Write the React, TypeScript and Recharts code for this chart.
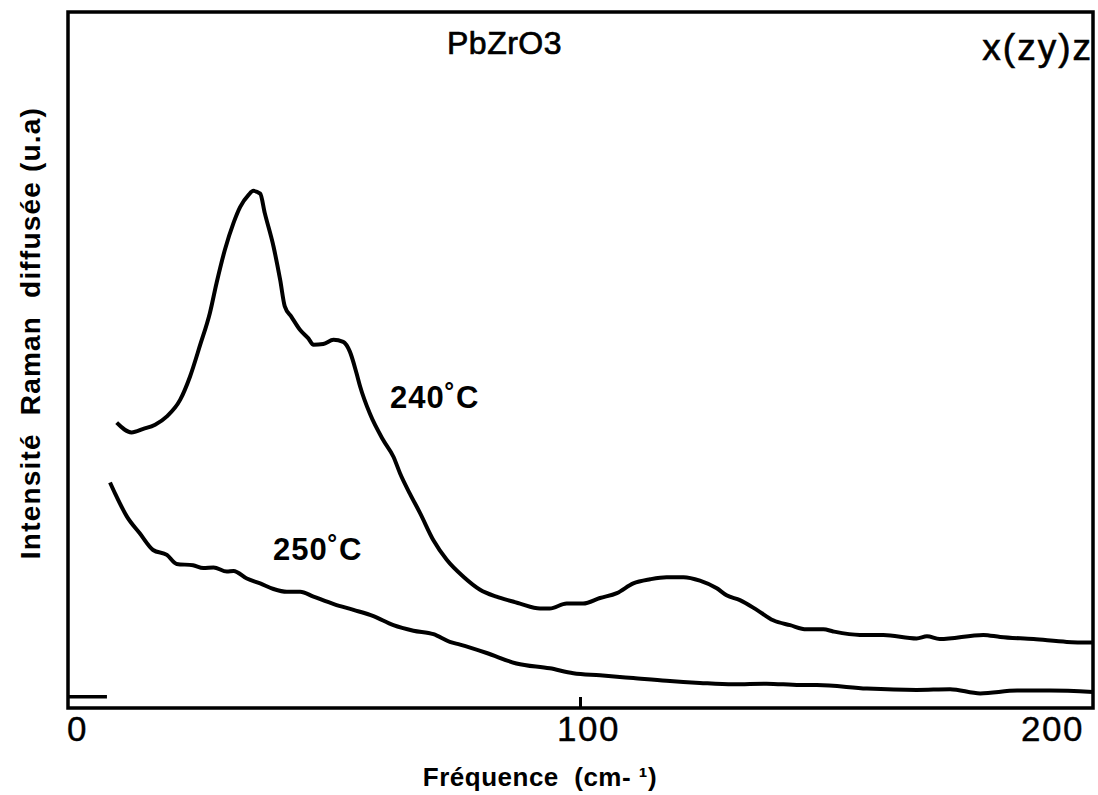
import React from 'react';
import { ComposedChart, Line, XAxis, YAxis, ReferenceArea, Customized } from 'recharts';

// Raman spectrum of PbZrO3, x(zy)z geometry
const freq240 = [9.5, 12.4, 14.7, 17.0, 19.3, 21.9, 23.8, 25.8, 27.7, 29.0, 30.6, 32.3, 33.6, 35.2, 36.2, 37.5, 38.4, 40.1, 41.4, 42.3, 43.6, 45.3, 46.9, 47.9, 49.8, 51.8, 53.7, 55.0, 56.3, 57.0, 58.9, 61.5, 63.5, 64.8, 66.7, 68.7, 71.3, 73.9, 77.1, 80.4, 83.6, 86.8, 88.2, 92.1, 94.0, 97.3, 100.5, 103.8, 107.1, 110.3, 113.6, 116.8, 120.1, 123.3, 126.6, 128.5, 131.1, 134.4, 137.6, 140.9, 144.1, 147.4, 149.3, 154.5, 159.1, 165.6, 167.6, 170.1, 178.6, 181.9, 188.4, 194.9, 200];
const int240 = [41.0, 39.6, 40.1, 40.7, 41.9, 44.3, 47.6, 52.2, 56.8, 61.1, 65.8, 69.7, 72.0, 73.7, 74.3, 73.9, 71.1, 66.3, 61.5, 57.7, 56.2, 54.3, 53.1, 52.2, 52.3, 52.9, 52.6, 51.2, 48.1, 46.2, 42.3, 38.5, 36.1, 33.7, 30.8, 28.0, 24.1, 21.3, 18.9, 17.0, 16.0, 15.3, 15.0, 14.3, 14.3, 15.0, 15.0, 15.8, 16.5, 17.9, 18.5, 18.8, 18.8, 18.3, 17.2, 16.2, 15.5, 14.1, 12.6, 11.9, 11.3, 11.3, 11.0, 10.5, 10.5, 10.0, 10.3, 9.9, 10.5, 10.2, 9.9, 9.5, 9.4];

const freq250 = [8.2, 9.2, 11.5, 14.0, 16.6, 19.3, 21.2, 24.4, 26.4, 28.4, 31.0, 32.3, 34.9, 37.5, 40.1, 42.7, 45.3, 47.9, 52.0, 55.7, 59.6, 63.5, 67.4, 71.3, 74.5, 76.5, 81.7, 87.5, 94.0, 98.6, 103.8, 110.3, 116.8, 123.3, 129.8, 136.3, 142.8, 146.1, 155.9, 165.6, 172.1, 178.0, 185.2, 191.6, 200];
const int250 = [32.4, 30.8, 27.5, 25.1, 22.7, 22.0, 20.7, 20.5, 20.1, 20.2, 19.6, 19.7, 18.6, 17.9, 17.1, 16.7, 16.7, 16.0, 14.9, 14.1, 13.2, 11.9, 11.1, 10.6, 9.5, 9.1, 7.9, 6.4, 5.7, 5.0, 4.7, 4.3, 3.9, 3.6, 3.4, 3.5, 3.3, 3.3, 2.8, 2.6, 2.7, 2.1, 2.5, 2.5, 2.3];

const baselineFreq = [0, 7.6];
const baselineInt = [1.6, 1.6];

const xTicks = [0, 100, 200];

const series240 = freq240.map((f, i) => ({ f, v: int240[i] }));
const series250 = freq250.map((f, i) => ({ f, v: int250[i] }));
const seriesBase = baselineFreq.map((f, i) => ({ f, v: baselineInt[i] }));

const FONT = '"Liberation Sans", Arial, Helvetica, sans-serif';

const XTick = (props: any) => {
  const { x, y, payload } = props;
  const v = payload.value;
  const anchor = v === 0 ? 'start' : v === 200 ? 'end' : 'middle';
  const tx = v === 0 ? x - 1 : v === 200 ? x - 2 : x + 8;
  return (
    <g>
      {v === 100 && <line x1={x} x2={x} y1={y - 11} y2={y} stroke="#000" strokeWidth={3} />}
      <text x={tx} y={y + 33} textAnchor={anchor} fontSize={35} letterSpacing={1.5} fontFamily={FONT} fill="#000" stroke="#000" strokeWidth={0.4}>
        {v}
      </text>
    </g>
  );
};

const Labels = () => (
  <g fontFamily={FONT} fill="#000">
    <text x={447} y={54} fontSize={32} letterSpacing={0.5} stroke="#000" strokeWidth={0.7}>PbZrO3</text>
    <text x={1093} y={60} fontSize={37} letterSpacing={2} textAnchor="end" stroke="#000" strokeWidth={0.6}>x(zy)z</text>
    <text x={390} y={408} fontSize={31} fontWeight="bold" letterSpacing={1}>240˚C</text>
    <text x={273} y={560} fontSize={31} fontWeight="bold" letterSpacing={1}>250˚C</text>
    <text x={540} y={786} fontSize={26} fontWeight="bold" letterSpacing={0.5} textAnchor="middle" style={{ whiteSpace: 'pre' }}>
      {'Fréquence  (cm- ¹)'}
    </text>
    <text
      x={40}
      y={333}
      fontSize={28}
      fontWeight="bold"
      letterSpacing={1.2}
      textAnchor="middle"
      transform="rotate(-90 40 333)"
      style={{ whiteSpace: 'pre' }}
    >
      {'Intensité  Raman  diffusée (u.a)'}
    </text>
  </g>
);

export default function App() {
  return (
    <div style={{ position: 'absolute', left: 0, top: 0, width: 1098, height: 795, background: '#fff' }}>
      <ComposedChart width={1098} height={795} margin={{ top: 12, left: 68, right: 5, bottom: 47 }}>
        <XAxis
          type="number"
          dataKey="f"
          domain={[0, 200]}
          ticks={xTicks}
          allowDataOverflow
          axisLine={false}
          tickLine={false}
          tickSize={0}
          tickMargin={0}
          height={40}
          tick={<XTick />}
        />
        <YAxis type="number" domain={[0, 100]} hide allowDataOverflow />
        <ReferenceArea x1={0} x2={200} y1={0} y2={100} fill="none" stroke="#000" strokeWidth={3.5} ifOverflow="visible" />
        <Line data={series240} dataKey="v" type="monotone" stroke="#000" strokeWidth={4} dot={false} isAnimationActive={false} />
        <Line data={series250} dataKey="v" type="monotone" stroke="#000" strokeWidth={4} dot={false} isAnimationActive={false} />
        <Line data={seriesBase} dataKey="v" type="linear" stroke="#000" strokeWidth={3.5} dot={false} isAnimationActive={false} />
        <Customized component={Labels} />
      </ComposedChart>
    </div>
  );
}
